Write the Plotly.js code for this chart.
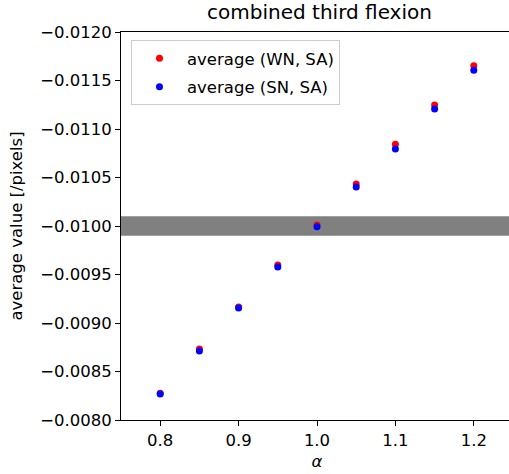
<!DOCTYPE html>
<html>
<head>
<meta charset="utf-8">
<script src="https://cdn.plot.ly/plotly-3.0.1.min.js"></script>
<style>
html,body{margin:0;padding:0;overflow:hidden;background:#fff;}
#chart{width:513px;height:474px;}
</style>
</head>
<body>
<div id="chart"></div>
<script>
const alpha = [0.8, 0.85, 0.9, 0.95, 1.0, 1.05, 1.1, 1.15, 1.2];
const avgWN = [-0.008275, -0.008732, -0.009165, -0.009598, -0.010010, -0.010433, -0.010842, -0.011247, -0.011653];
const avgSN = [-0.008268, -0.008711, -0.009155, -0.009577, -0.009993, -0.010402, -0.010794, -0.011206, -0.011605];
const errWN = [0.000003, 0.000003, 0.000003, 0.000003, 0.000003, 0.000003, 0.000003, 0.000003, 0.000003];
const errSN = [0.000003, 0.000003, 0.000003, 0.000003, 0.000003, 0.000003, 0.000003, 0.000003, 0.000003];
const bandLow = -0.0099;
const bandHigh = -0.0101;
const yTicks = [-0.0080, -0.0085, -0.0090, -0.0095, -0.0100, -0.0105, -0.0110, -0.0115, -0.0120];
const xTicks = [0.8, 0.9, 1.0, 1.1, 1.2];

const font = 'DejaVu Sans, sans-serif';
const traces = [
  {x: alpha, y: avgWN, mode: 'markers', type: 'scatter', name: 'average (WN, SA)', legendgroup: 'a',
   marker: {color: '#ff0000', size: 7},
   error_y: {type: 'data', array: errWN, visible: true, color: '#ff0000', thickness: 1.5, width: 0}},
  {x: alpha, y: avgSN, mode: 'markers', type: 'scatter', name: 'average (SN, SA)', legendgroup: 'b',
   marker: {color: '#0000ff', size: 7},
   error_y: {type: 'data', array: errSN, visible: true, color: '#0000ff', thickness: 1.5, width: 0}}
];
const layout = {
  width: 513, height: 474,
  margin: {l: 121, r: 0, t: 32, b: 54},
  paper_bgcolor: '#fff', plot_bgcolor: '#fff',
  font: {family: font, size: 16.5, color: '#000'},
  title: {text: 'combined third flexion', font: {family: font, size: 20, color: '#000'},
          x: 0.6228, xanchor: 'center', y: 0.974, yanchor: 'middle'},
  xaxis: {range: [0.75, 1.25], tickvals: xTicks, ticktext: xTicks.map(v => v.toFixed(1)),
          showline: true, linecolor: '#000', linewidth: 1, mirror: true,
          ticks: 'outside', ticklen: 5, tickcolor: '#000', showgrid: false, zeroline: false,
          tickfont: {family: font, size: 16.5, color: '#000'},
          title: {text: '<i>α</i>', font: {family: font, size: 16.5, color: '#000'}, standoff: 6}},
  yaxis: {range: [-0.0080, -0.0120], tickvals: yTicks, tickformat: '.4f',
          showline: true, linecolor: '#000', linewidth: 1, mirror: true,
          ticks: 'outside', ticklen: 5, tickcolor: '#000', showgrid: false, zeroline: false,
          tickfont: {family: font, size: 16.5, color: '#000'},
          title: {text: 'average value [/pixels]', font: {family: font, size: 16.5, color: '#000'}, standoff: 13}},
  shapes: [{type: 'rect', xref: 'paper', yref: 'y', x0: 0, x1: 1, y0: bandLow, y1: bandHigh,
            fillcolor: '#808080', line: {width: 0}, layer: 'below'}],
  showlegend: true,
  legend: {x: 0.0255, y: 0.979, xanchor: 'left', yanchor: 'top', traceorder: 'grouped',
           tracegroupgap: 4, itemwidth: 45,
           bgcolor: 'rgba(255,255,255,0.8)', bordercolor: '#cccccc', borderwidth: 1,
           font: {family: font, size: 16.5, color: '#000'}}
};
Plotly.newPlot('chart', traces, layout, {staticPlot: true, displayModeBar: false});
</script>
</body>
</html>
